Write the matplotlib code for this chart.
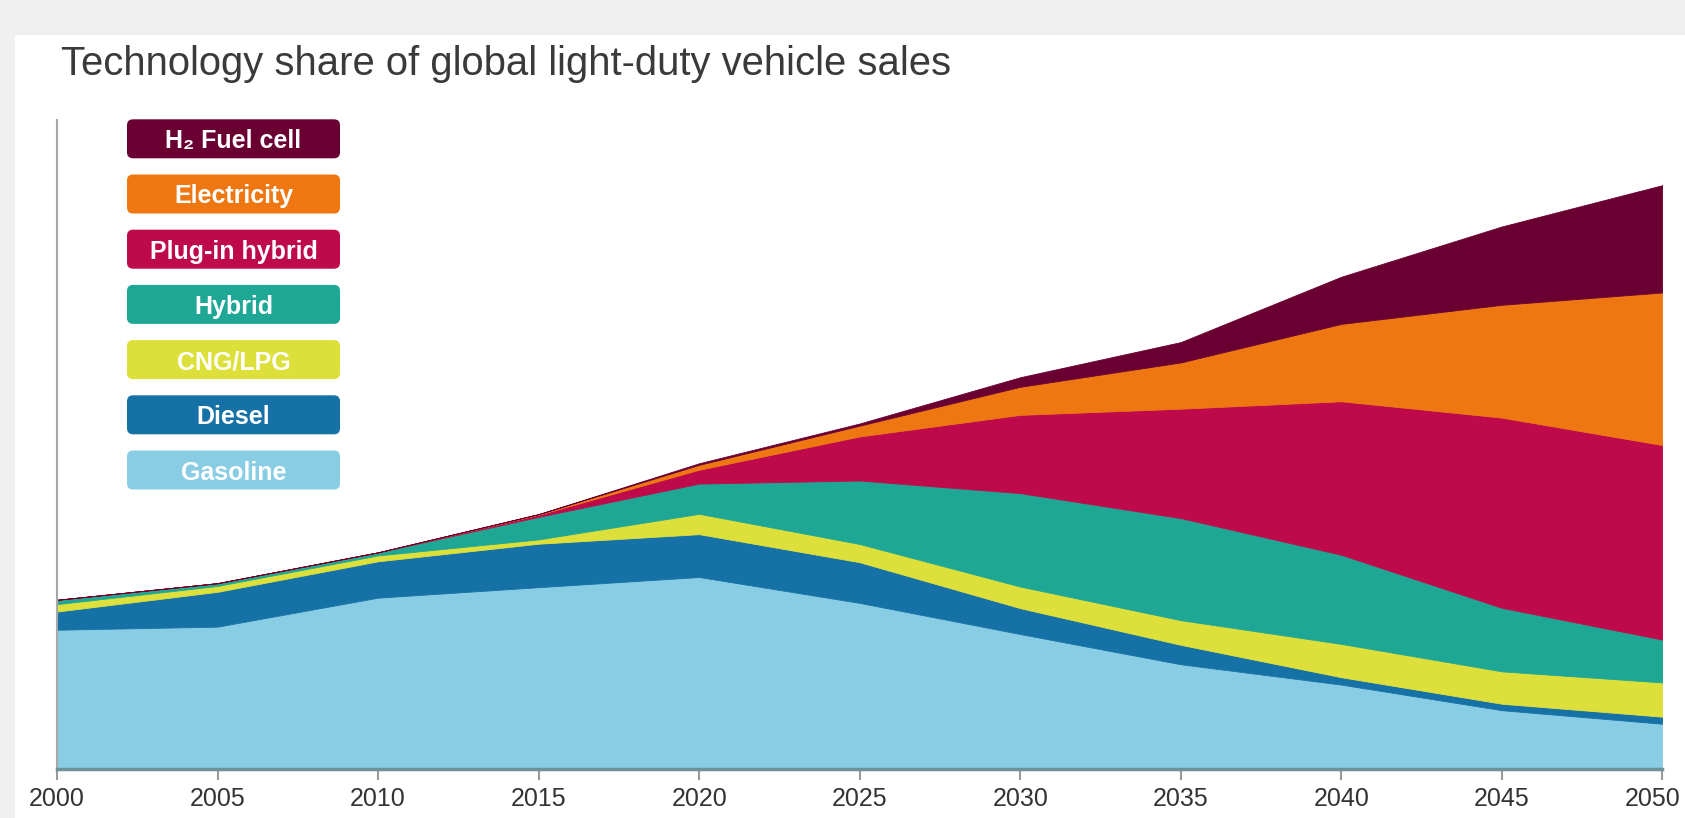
import matplotlib.pyplot as plt
from matplotlib.patches import FancyBboxPatch, Rectangle
from matplotlib.transforms import IdentityTransform, ScaledTranslation

plt.rcParams['font.family'] = ['Liberation Sans', 'DejaVu Sans']

# light-duty vehicle sales by technology, million vehicles per year
years = [2000, 2005, 2010, 2015, 2020, 2025, 2030, 2035, 2040, 2045, 2050]
gasoline = [45.3, 46.3, 55.7, 59.1, 62.4, 54.0, 43.9, 34.1, 27.5, 19.2, 14.8]
diesel = [5.9, 11.3, 11.8, 14.1, 13.9, 13.2, 8.4, 6.3, 2.4, 2.1, 2.3]
cng_lpg = [2.4, 1.9, 1.9, 1.4, 6.6, 5.9, 7.0, 8.0, 10.8, 10.5, 11.1]
hybrid = [1.4, 0.9, 1.0, 7.3, 9.8, 20.6, 30.3, 33.1, 28.9, 20.6, 13.9]
plugin_hybrid = [0, 0, 0, 0.7, 4.5, 14.3, 25.4, 35.5, 49.8, 61.7, 63.1]
electricity = [0, 0, 0, 0.2, 1.6, 3.5, 9.1, 15.0, 25.1, 36.6, 49.5]
fuel_cell = [0, 0, 0, 0, 0.5, 0.7, 3.1, 6.6, 15.3, 25.4, 34.8]

labels = ["Gasoline", "Diesel", "CNG/LPG", "Hybrid", "Plug-in hybrid",
          "Electricity", "H\u2082 Fuel cell"]
colors = ["#89cde5", "#1672a6", "#dde03a", "#1ea794", "#be0a4a",
          "#ee7712", "#6a0032"]

W, H = 1685, 818
fig = plt.figure(figsize=(W / 100, H / 100), dpi=100, facecolor="#f0f0f0")

# white card behind the chart
fig.add_artist(Rectangle((15, 0), W - 15, H - 35, transform=IdentityTransform(),
                         facecolor="white", edgecolor="none", zorder=0))

ax = fig.add_axes([57 / W, 48.6 / H, 1605.4 / W, 649 / H])
ax.set_facecolor("none")

polys = ax.stackplot(years, gasoline, diesel, cng_lpg, hybrid, plugin_hybrid,
                     electricity, fuel_cell, colors=colors)
for p, c in zip(polys, colors):
    p.set_edgecolor(c)
    p.set_linewidth(0.6)

ax.set_xlim(2000, 2050)
ax.set_ylim(0, 210.5)
ax.set_xticks(range(2000, 2051, 5))
ax.set_yticks([])
ax.tick_params(axis="x", direction="out", length=8, width=1.5, color="#9a9a9a",
               pad=5, labelsize=18, labelcolor="#333333")

# pull the last year label in a little so it stays on the card
last = ax.get_xticklabels()[-1]
last.set_transform(last.get_transform() +
                   ScaledTranslation(-0.1, 0, fig.dpi_scale_trans))

for side in ("top", "right"):
    ax.spines[side].set_visible(False)
ax.spines["left"].set_color("#a8a8a8")
ax.spines["left"].set_linewidth(1.5)
ax.spines["bottom"].set_color("#6f8f9b")
ax.spines["bottom"].set_linewidth(2.5)
ax.spines["bottom"].set_zorder(5)

fig.text(61 / W, 1 - 75 / H, "Technology share of global light-duty vehicle sales",
         fontsize=28.8, color="#3a3a3a", ha="left", va="baseline")

# legend as a column of rounded colour chips
box_x, box_w, box_h = 127, 213, 39
for i, (lab, col) in enumerate(zip(labels[::-1], colors[::-1])):
    yc = 138.8 + i * 55.2
    fig.add_artist(FancyBboxPatch((box_x, H - yc - box_h / 2), box_w, box_h,
                                  boxstyle="round,pad=0,rounding_size=6",
                                  transform=IdentityTransform(),
                                  facecolor=col, edgecolor="none"))
    fig.text((box_x + box_w / 2) / W, 1 - yc / H, lab, fontsize=18,
             fontweight="bold", color="white", ha="center", va="center_baseline")

fig.savefig("out.png", dpi=100, facecolor=fig.get_facecolor())
